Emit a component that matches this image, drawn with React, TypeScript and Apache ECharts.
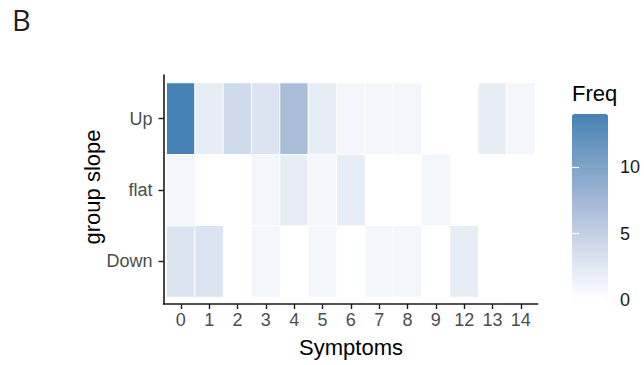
import React, { useEffect, useRef } from 'react';
import * as echarts from 'echarts';

const symptoms = ['0', '1', '2', '3', '4', '5', '6', '7', '8', '9', '12', '13', '14'];
const slopes = ['Down', 'flat', 'Up'];
const upFreq = [14, 2, 4, 3, 7, 2, 1, 1, 1, 0, 0, 2, 1];
const flatFreq = [1, 0, 0, 1, 2, 1, 2, 0, 0, 1, 0, 0, 0];
const downFreq = [3, 3, 0, 1, 0, 1, 0, 1, 1, 0, 2, 0, 0];
const legendTicks = [0, 5, 10];
const freqMin = 0;
const freqMax = 14;

const FONT = '"Liberation Sans", Arial, Helvetica, sans-serif';

export default function App() {
  const ref = useRef<HTMLDivElement>(null);
  useEffect(() => {
    if (!ref.current) return;
    const chart = echarts.init(ref.current, null, { renderer: 'svg' });
    const rows = [downFreq, flatFreq, upFreq];
    const data: [number, number, number][] = [];
    rows.forEach((row, yi) => {
      row.forEach((v, xi) => {
        if (v > 0) data.push([xi, yi, v]);
      });
    });
    const axisColor = '#1a1a1a';
    chart.setOption({
      animation: false,
      backgroundColor: '#ffffff',
      grid: [
        { left: 166.7, right: 109, top: 83, bottom: 68 },
        { left: 163.5, right: 106.3, top: 75, bottom: 61 },
        { left: 572, width: 36, top: 114, height: 186 },
      ],
      xAxis: [
        {
          type: 'category',
          gridIndex: 0,
          data: symptoms,
          offset: 7,
          axisLine: { show: false },
          axisTick: { show: true, alignWithLabel: true, length: 5, lineStyle: { color: axisColor, width: 1.4 } },
          axisLabel: { color: '#4d4d4d', fontSize: 18, fontFamily: FONT, margin: 7, interval: 0 },
          splitLine: { show: false },
        },
        {
          type: 'value',
          gridIndex: 1,
          min: 0,
          max: 1,
          axisLine: { show: true, onZero: false, lineStyle: { color: axisColor, width: 1.6 } },
          axisTick: { show: false },
          axisLabel: { show: false },
          splitLine: { show: false },
        },
        { type: 'value', gridIndex: 2, show: false, min: 0, max: 1 },
      ],
      yAxis: [
        {
          type: 'category',
          gridIndex: 0,
          data: slopes,
          offset: 3.2,
          axisLine: { show: false },
          axisTick: { show: true, alignWithLabel: true, length: 5, lineStyle: { color: axisColor, width: 1.4 } },
          axisLabel: { color: '#4d4d4d', fontSize: 18, fontFamily: FONT, margin: 11 },
          splitLine: { show: false },
        },
        {
          type: 'value',
          gridIndex: 1,
          min: 0,
          max: 1,
          axisLine: { show: true, onZero: false, lineStyle: { color: axisColor, width: 1.6 } },
          axisTick: { show: false },
          axisLabel: { show: false },
          splitLine: { show: false },
        },
        {
          type: 'value',
          gridIndex: 2,
          position: 'right',
          min: freqMin,
          max: freqMax,
          z: 10,
          axisLine: { show: false },
          axisTick: { show: true, inside: true, length: 7, customValues: legendTicks, lineStyle: { color: '#ffffff', width: 1.2 } },
          axisLabel: { show: true, customValues: legendTicks, color: '#1a1a1a', fontSize: 18, fontFamily: FONT, margin: 12 },
          splitLine: { show: false },
        },
        {
          type: 'value',
          gridIndex: 2,
          position: 'left',
          min: freqMin,
          max: freqMax,
          z: 10,
          axisLine: { show: false },
          axisTick: { show: true, inside: true, length: 7, customValues: legendTicks, lineStyle: { color: '#ffffff', width: 1.2 } },
          axisLabel: { show: false },
          splitLine: { show: false },
        },
      ],
      visualMap: {
        type: 'continuous',
        min: freqMin,
        max: freqMax,
        orient: 'vertical',
        left: 572,
        top: 114,
        itemWidth: 36,
        itemHeight: 186,
        padding: 0,
        calculable: false,
        showLabel: false,
        seriesIndex: 0,
        inRange: { color: ['#ffffff', '#d5dfed', '#a9bcd8', '#789fc6', '#4682b4'] },
      },
      series: [
        {
          type: 'heatmap',
          xAxisIndex: 0,
          yAxisIndex: 0,
          data,
          itemStyle: { borderColor: '#ffffff', borderWidth: 1 },
          emphasis: { disabled: true },
        },
      ],
      graphic: [
        {
          type: 'text',
          left: 12,
          top: 5,
          style: { text: 'B', fontSize: 29, fontFamily: '"Open Sans", "Noto Sans", sans-serif', fill: '#231f20' },
        },
        {
          type: 'text',
          x: 572,
          y: 93,
          style: { text: 'Freq', fontSize: 22, fontFamily: FONT, fill: '#000', verticalAlign: 'middle', align: 'left' },
        },
        {
          type: 'text',
          x: 351,
          y: 347,
          style: { text: 'Symptoms', fontSize: 22, fontFamily: FONT, fill: '#000', align: 'center', verticalAlign: 'middle' },
        },
        {
          type: 'text',
          x: 92,
          y: 187,
          rotation: Math.PI / 2,
          style: { text: 'group slope', fontSize: 22, fontFamily: FONT, fill: '#000', align: 'center', verticalAlign: 'middle' },
        },
      ],
    });
    return () => chart.dispose();
  }, []);
  return <div ref={ref} style={{ position: 'fixed', left: 0, top: 0, width: 644, height: 365 }} />;
}
